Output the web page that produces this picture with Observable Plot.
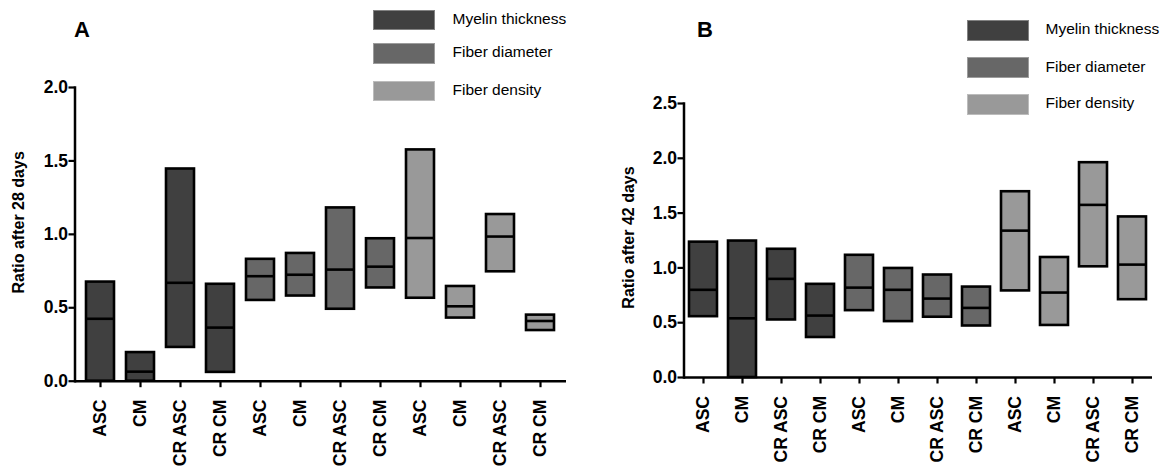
<!DOCTYPE html>
<html><head><meta charset="utf-8">
<script src="https://cdn.jsdelivr.net/npm/d3@7"></script>
<script src="https://cdn.jsdelivr.net/npm/@observablehq/plot@0.6"></script>
<style>
html,body{margin:0;padding:0;background:#fff;}
#root{position:relative;width:1168px;height:469px;overflow:hidden;font-family:"Liberation Sans",Arial,Helvetica,sans-serif;color:#000;}
.panel{position:absolute;top:0;}
.letter{position:absolute;font-weight:bold;font-size:22px;line-height:22px;}
.lg-sw{position:absolute;box-sizing:border-box;border:1px solid rgba(255,255,255,0.35);}
.lg-tx{position:absolute;font-size:15.5px;line-height:18px;white-space:nowrap;}
</style>
</head><body><div id="root"></div>
<script>
// categories
const groups = ["ASC", "CM", "CR ASC", "CR CM"];
const measures = ["Myelin thickness", "Fiber diameter", "Fiber density"];
const measureColors = ["#404040", "#676767", "#999999"];

// Panel A: ratio after 28 days (min, median, max), order: measures x groups
const lowA  = [0.00, 0.00, 0.23, 0.06, 0.55, 0.58, 0.49, 0.635, 0.565, 0.43, 0.745, 0.345];
const medA  = [0.425, 0.065, 0.67, 0.365, 0.715, 0.725, 0.76, 0.78, 0.975, 0.51, 0.985, 0.41];
const highA = [0.675, 0.195, 1.445, 0.66, 0.83, 0.87, 1.18, 0.97, 1.575, 0.645, 1.135, 0.45];

// Panel B: ratio after 42 days
const lowB  = [0.555, 0.00, 0.525, 0.365, 0.61, 0.51, 0.55, 0.47, 0.79, 0.475, 1.01, 0.71];
const medB  = [0.80, 0.54, 0.90, 0.565, 0.82, 0.80, 0.72, 0.635, 1.34, 0.775, 1.575, 1.03];
const highB = [1.235, 1.245, 1.17, 0.85, 1.115, 0.995, 0.935, 0.825, 1.695, 1.095, 1.96, 1.465];

const yTicksA = [0, 0.5, 1.0, 1.5, 2.0];
const yTicksB = [0, 0.5, 1.0, 1.5, 2.0, 2.5];

const FONT = '"Liberation Sans", Arial, Helvetica, sans-serif';
const root = document.getElementById("root");

function makePanel(o) {
  const rows = [];
  measures.forEach((m, i) => groups.forEach((g, j) => {
    const k = i * groups.length + j;
    rows.push({key: i + "-" + g, group: g, measure: m, low: o.low[k], med: o.med[k], high: o.high[k]});
  }));
  const labelOf = new Map(rows.map(r => [r.key, r.group]));
  const svg = Plot.plot({
    width: o.width, height: o.height,
    marginTop: o.mt, marginBottom: o.mb, marginLeft: o.ml, marginRight: o.mr,
    style: {fontFamily: FONT, color: "#000", background: "transparent", overflow: "visible"},
    x: {domain: rows.map(r => r.key), paddingInner: o.pad, paddingOuter: o.pad / 2, align: 0.5},
    y: {domain: [0, o.yMax]},
    color: {domain: measures, range: measureColors},
    marks: [
      Plot.barY(rows, {x: "key", y1: "low", y2: "high", fill: "measure", stroke: "#000", strokeWidth: 2.6}),
      Plot.tickY(rows, {x: "key", y: "med", stroke: "#000", strokeWidth: 2.6}),
      Plot.axisY({ticks: o.yTicks, tickFormat: d3.format(".1f"), tickSize: 6, tickPadding: 1,
        fontSize: 17.5, fontWeight: "bold", label: null, strokeWidth: 2.2}),
      Plot.axisX({tickFormat: k => labelOf.get(k), tickRotate: -90, tickSize: 6.5, tickPadding: 12,
        fontSize: 17.5, fontWeight: "bold", label: null, strokeWidth: 2.2}),
      Plot.ruleY([0], {stroke: "#000", strokeWidth: 2.5}),
      Plot.frame({anchor: "left", stroke: "#000", strokeWidth: 2.5}),
      Plot.text([o.yLabel], {text: d => d, frameAnchor: "left", rotate: -90, dx: o.labelDx, dy: o.labelDy,
        textAnchor: "middle", lineAnchor: "middle", fontSize: 16, fontWeight: "bold", fill: "#000"})
    ]
  });
  svg.classList.add("panel");
  svg.style.left = o.left + "px";
  root.appendChild(svg);

  const letter = document.createElement("div");
  letter.className = "letter";
  letter.textContent = o.letter;
  letter.style.left = o.letterX + "px";
  letter.style.top = o.letterY + "px";
  root.appendChild(letter);

  measures.forEach((m, i) => {
    const sw = document.createElement("div");
    sw.className = "lg-sw";
    sw.style.left = o.lgX + "px";
    sw.style.top = o.lgTops[i] + "px";
    sw.style.width = o.lgW + "px";
    sw.style.height = o.lgH + "px";
    sw.style.background = measureColors[i];
    root.appendChild(sw);
    const tx = document.createElement("div");
    tx.className = "lg-tx";
    tx.textContent = m;
    tx.style.left = o.lgTextX + "px";
    tx.style.top = (o.lgTops[i] + o.lgH / 2 - 10) + "px";
    root.appendChild(tx);
  });
}

makePanel({
  low: lowA, med: medA, high: highA, yMax: 2.0, yTicks: yTicksA, yLabel: "Ratio after 28 days",
  left: 0, width: 580, height: 469, mt: 87, mb: 88.3, ml: 74.5, mr: 14, pad: 0.3,
  labelDx: -56, labelDy: -12,
  letter: "A", letterX: 74, letterY: 19,
  lgX: 372.5, lgTops: [9.5, 43, 80.5], lgW: 62, lgH: 20.5, lgTextX: 452.5
});

makePanel({
  low: lowB, med: medB, high: highB, yMax: 2.5, yTicks: yTicksB, yLabel: "Ratio after 42 days",
  left: 580, width: 588, height: 469, mt: 103, mb: 92, ml: 103.5, mr: 16, pad: 0.28,
  labelDx: -55, labelDy: -3,
  letter: "B", letterX: 697, letterY: 19,
  lgX: 966.5, lgTops: [19.5, 57, 93.5], lgW: 62, lgH: 21, lgTextX: 1045.5
});
</script>
</body></html>
